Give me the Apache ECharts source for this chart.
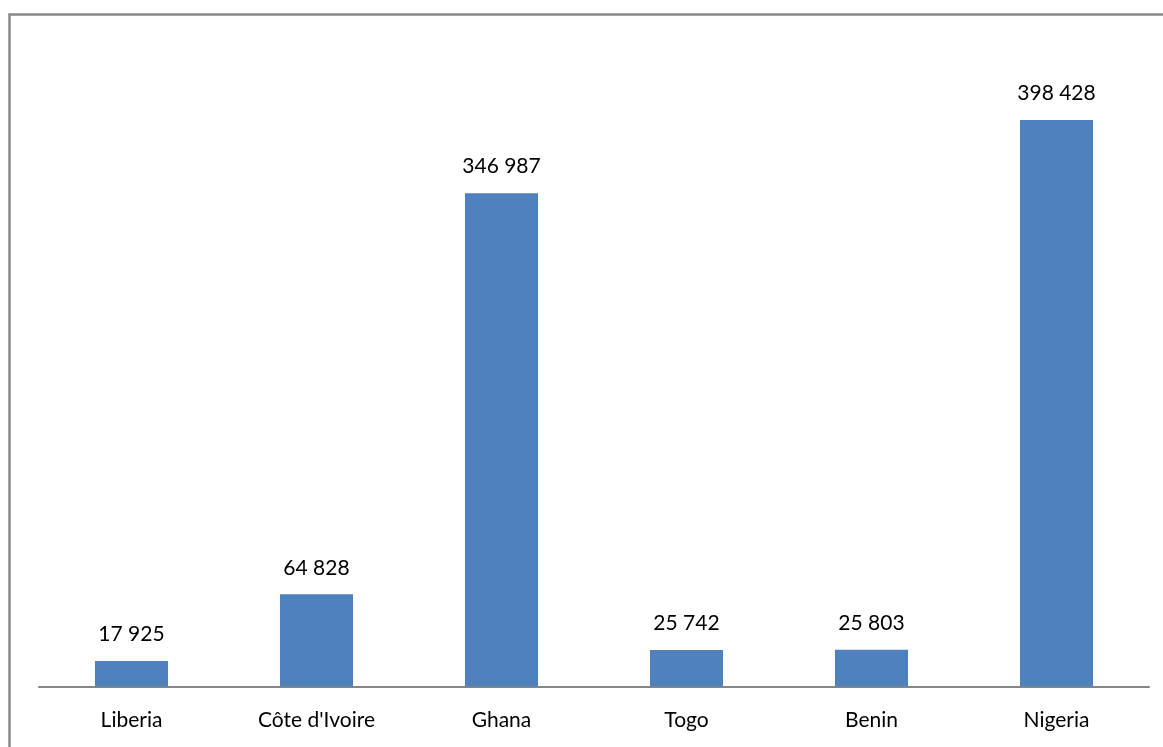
<!DOCTYPE html>
<html>
<head>
<meta charset="utf-8">
<script src="https://cdn.jsdelivr.net/npm/echarts@6/dist/echarts.min.js"></script>
<style>html,body{margin:0;padding:0;background:#fff;}#c{width:1163px;height:747px;}</style>
</head>
<body>
<div id="c"></div>
<script>
const categories = ["Liberia", "Côte d'Ivoire", "Ghana", "Togo", "Benin", "Nigeria"];
const values = [17925, 64828, 346987, 25742, 25803, 398428];

function fmt(v) {
  return String(v).replace(/\B(?=(\d{3})+(?!\d))/g, ' ');
}

const chart = echarts.init(document.getElementById('c'));
chart.setOption({
  animation: false,
  backgroundColor: '#ffffff',
  graphic: [{
    type: 'rect',
    shape: { x: 9.5, y: 14.5, width: 1300, height: 900 },
    style: { fill: 'none', stroke: '#888888', lineWidth: 2.5 },
    silent: true
  }],
  grid: { left: 39, right: 14, top: 46.7, bottom: 60.5 },
  xAxis: {
    type: 'category',
    data: categories,
    axisLine: { show: true, lineStyle: { color: '#868686', width: 2 } },
    axisTick: { show: false },
    axisLabel: { color: '#000', fontFamily: 'Lato', fontSize: 21, margin: 23 }
  },
  yAxis: {
    type: 'value',
    min: 0,
    max: 450000,
    show: false,
    splitLine: { show: false }
  },
  series: [{
    type: 'bar',
    data: values,
    barWidth: '39.5%',
    itemStyle: { color: '#4F81BD' },
    label: {
      show: true,
      position: 'top',
      distance: 16,
      color: '#000',
      fontFamily: 'Lato',
      fontSize: 21,
      formatter: p => fmt(p.value)
    }
  }]
});
</script>
</body>
</html>
